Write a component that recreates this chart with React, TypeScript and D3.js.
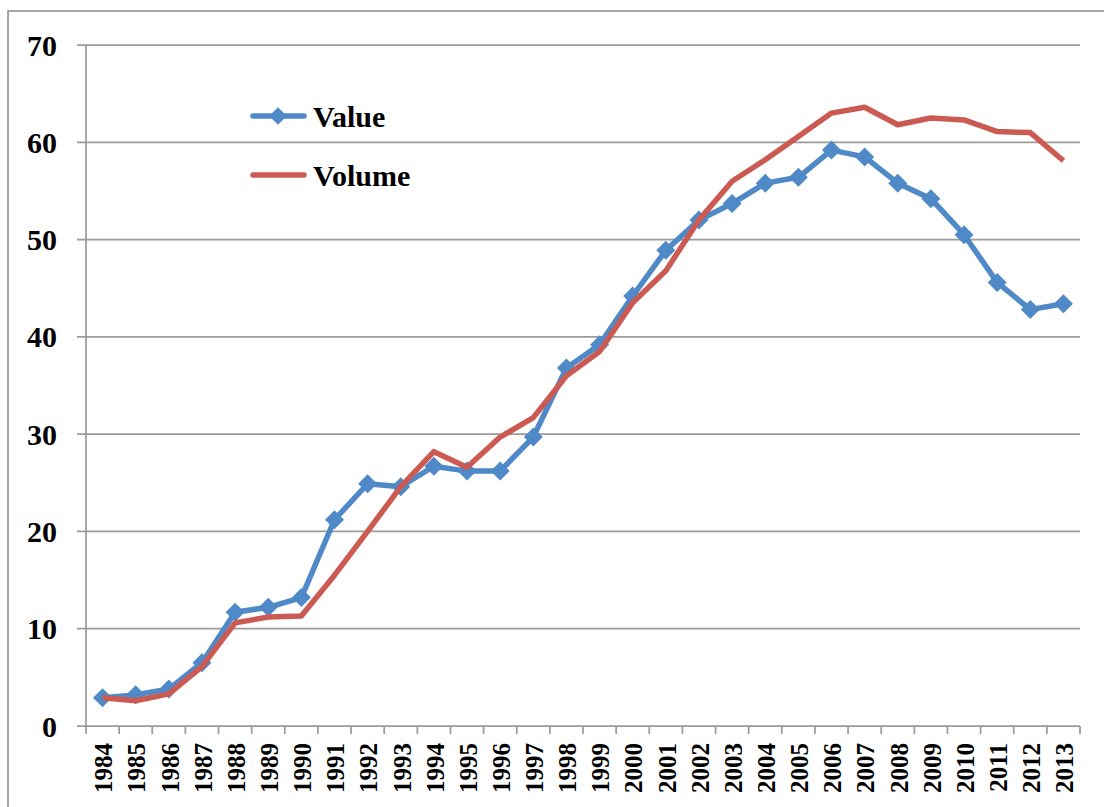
import React, { useEffect, useRef } from 'react';
import * as d3 from 'd3';

// --- DATA ---
const years = [
  '1984', '1985', '1986', '1987', '1988', '1989', '1990', '1991', '1992', '1993',
  '1994', '1995', '1996', '1997', '1998', '1999', '2000', '2001', '2002', '2003',
  '2004', '2005', '2006', '2007', '2008', '2009', '2010', '2011', '2012', '2013',
];
const valueSeries = [
  2.9, 3.2, 3.8, 6.5, 11.7, 12.2, 13.2, 21.2, 24.9, 24.6,
  26.7, 26.2, 26.2, 29.7, 36.8, 39.2, 44.2, 48.9, 52.0, 53.7,
  55.8, 56.4, 59.2, 58.5, 55.8, 54.2, 50.5, 45.6, 42.8, 43.4,
];
const volumeSeries = [
  2.9, 2.6, 3.3, 6.1, 10.6, 11.2, 11.3, 15.5, 20.0, 24.6,
  28.2, 26.6, 29.7, 31.7, 36.0, 38.5, 43.5, 46.8, 52.0, 56.0,
  58.2, 60.6, 63.0, 63.6, 61.8, 62.5, 62.3, 61.1, 61.0, 58.1,
];
const yTicks = [0, 10, 20, 30, 40, 50, 60, 70];
const legendItems = ['Value', 'Volume'];

const BLUE = '#4F89C8';
const RED = '#CB5A53';
const GRID = '#9b9b9b';
const FONT = 'Liberation Serif, Tinos, Times New Roman, DejaVu Serif, serif';

const App = () => {
  const svgRef = useRef<SVGSVGElement | null>(null);

  useEffect(() => {
    if (!svgRef.current) return;
    const W = 1104;
    const H = 807;
    const left = 86, right = 1080, top = 45, bottom = 726;

    const svg = d3.select(svgRef.current);
    svg.selectAll('*').remove();

    // outer chart frame (runs off the right / bottom of the picture)
    svg.append('rect').attr('x', 8).attr('y', 11).attr('width', W + 20).attr('height', H + 20)
      .attr('fill', 'white').attr('stroke', GRID).attr('stroke-width', 1.75);

    const x = d3.scaleBand<string>().domain(years).range([left, right]);
    const y = d3.scaleLinear().domain([0, 70]).range([bottom, top]);

    // horizontal gridlines + y ticks
    const g = svg.append('g').attr('font-family', FONT).attr('font-weight', 'bold');
    g.selectAll('line.grid').data(yTicks).enter().append('line')
      .attr('x1', left - 9).attr('x2', right)
      .attr('y1', d => y(d)).attr('y2', d => y(d))
      .attr('stroke', GRID).attr('stroke-width', 1.75);

    g.selectAll('text.ylab').data(yTicks).enter().append('text')
      .attr('x', 57).attr('y', d => y(d)).attr('dy', '0.35em')
      .attr('text-anchor', 'end')
      .attr('font-size', 30)
      .attr('fill', '#000')
      .text(d => String(d));

    // y axis line
    g.append('line').attr('x1', left).attr('x2', left).attr('y1', top).attr('y2', bottom)
      .attr('stroke', GRID).attr('stroke-width', 1.75);

    // x axis ticks at band boundaries
    const bounds = years.map(d => x(d) as number).concat([right]);
    g.selectAll('line.xtick').data(bounds).enter().append('line')
      .attr('x1', d => d).attr('x2', d => d).attr('y1', bottom).attr('y2', bottom + 8)
      .attr('stroke', GRID).attr('stroke-width', 1.75);

    g.selectAll('text.xlab').data(years).enter().append('text')
      .attr('transform', d => `translate(${(x(d) as number) + x.bandwidth() / 2 + 1},${bottom + 17}) rotate(-90)`)
      .attr('dy', '0.35em')
      .attr('text-anchor', 'end')
      .attr('font-size', 25)
      .attr('fill', '#000')
      .text(d => d);

    const cx = (i: number) => (x(years[i]) as number) + x.bandwidth() / 2;
    const line = d3.line<number>().x((_, i) => cx(i)).y(d => y(d));
    const diamond = d3.symbol().type(d3.symbolDiamond2).size(230);

    // Value series with diamond markers
    svg.append('path').datum(valueSeries).attr('d', line)
      .attr('fill', 'none').attr('stroke', BLUE).attr('stroke-width', 5.5)
      .attr('stroke-linejoin', 'round');
    svg.selectAll('path.marker').data(valueSeries).enter().append('path')
      .attr('d', diamond)
      .attr('transform', (d, i) => `translate(${cx(i)},${y(d)})`)
      .attr('fill', BLUE);

    // Volume series
    svg.append('path').datum(volumeSeries).attr('d', line)
      .attr('fill', 'none').attr('stroke', RED).attr('stroke-width', 5.5)
      .attr('stroke-linejoin', 'round');

    // legend
    const legend = svg.append('g').attr('font-family', FONT).attr('font-weight', 'bold');
    const legendY = [116, 175];
    legendItems.forEach((name, i) => {
      const color = i === 0 ? BLUE : RED;
      legend.append('line').attr('x1', 253).attr('x2', 304)
        .attr('y1', legendY[i]).attr('y2', legendY[i])
        .attr('stroke', color).attr('stroke-width', 5.5).attr('stroke-linecap', 'round');
      if (i === 0) {
        legend.append('path').attr('d', d3.symbol().type(d3.symbolDiamond2).size(200))
          .attr('transform', `translate(278,${legendY[i]})`).attr('fill', color);
      }
      legend.append('text').attr('x', 313).attr('y', legendY[i]).attr('dy', '0.35em')
        .attr('font-size', 30)
        .attr('fill', '#000')
        .text(name);
    });
  }, []);

  return (
    <svg
      ref={svgRef}
      width={1104}
      height={807}
      style={{ position: 'absolute', left: 0, top: 0, background: 'white' }}
    />
  );
};

export default App;
